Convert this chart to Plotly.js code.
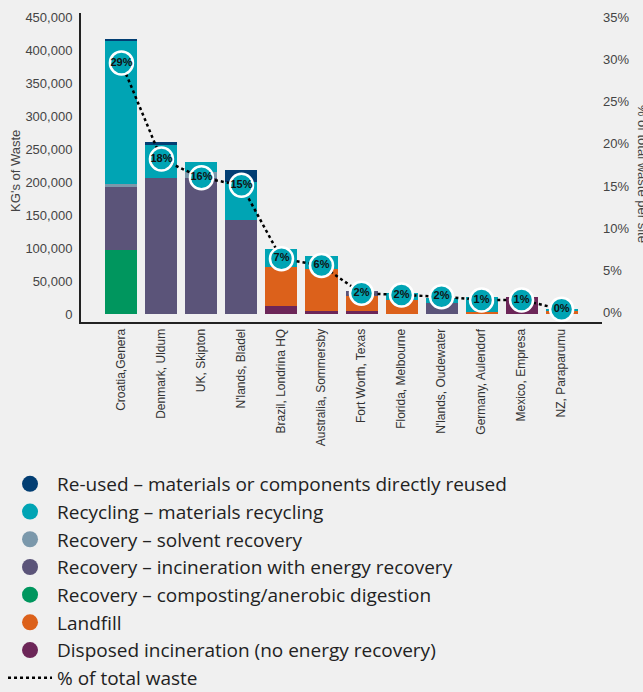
<!DOCTYPE html>
<html>
<head>
<meta charset="utf-8">
<script src="https://cdn.plot.ly/plotly-3.0.1.min.js"></script>
<style>
  html, body { margin: 0; padding: 0; background: #f0f0f0; }
  #chart { width: 643px; height: 692px; }
</style>
</head>
<body>
<div id="chart"></div>
<script>
// ---- Data ----
const sites = ["Croatia,Genera", "Denmark, Uldum", "UK, Skipton", "N'lands, Bladel",
  "Brazil, Londrina HQ", "Australia, Sommersby", "Fort Worth, Texas", "Florida, Melbourne",
  "N'lands, Oudewater", "Germany, Aulendorf", "Mexico, Empresa", "NZ, Paraparumu"];

// kg of waste per treatment (stacked bottom to top)
const disposed    = [0, 0, 0, 0, 12100, 5000, 4600, 0, 0, 0, 26200, 0];
const landfill    = [0, 0, 0, 0, 58700, 63300, 23200, 21200, 0, 3500, 0, 4000];
const composting  = [97000, 0, 0, 0, 0, 0, 0, 0, 0, 0, 0, 0];
const incinEnergy = [95600, 206300, 206300, 142600, 0, 0, 7100, 0, 16200, 0, 0, 0];
const solvent     = [4600, 0, 9100, 0, 0, 0, 0, 0, 0, 0, 0, 0];
const recycling   = [216900, 50000, 15100, 58100, 27800, 20100, 0, 11100, 8500, 22700, 0, 3000];
const reused      = [3000, 4600, 0, 17700, 0, 0, 0, 0, 0, 0, 0, 0];

// % of total waste per site
const pctValues = [29.6, 18.2, 16.0, 15.1, 6.4, 5.6, 2.3, 2.1, 1.9, 1.5, 1.5, 0.4];
const pctLabels = ["29%", "18%", "16%", "15%", "7%", "6%", "2%", "2%", "2%", "1%", "1%", "0%"];

const leftTicks = [0, 50000, 100000, 150000, 200000, 250000, 300000, 350000, 400000, 450000];
const rightTicks = [0, 5, 10, 15, 20, 25, 30, 35];
const rightTickLabels = ["0%", "5%", "10%", "15%", "20%", "25%", "30%", "35%"];

// ---- Styling ----
const FONT = "Liberation Sans, Arial, Helvetica, sans-serif";
const LEGEND_FONT = "Open Sans, Liberation Sans, Arial, sans-serif";
const series = [
  {name: "Disposed incineration (no energy recovery)", y: disposed, color: "#6c2658", rank: 7},
  {name: "Landfill", y: landfill, color: "#dc611b", rank: 6},
  {name: "Recovery – composting/anerobic digestion", y: composting, color: "#00965e", rank: 5},
  {name: "Recovery – incineration with energy recovery", y: incinEnergy, color: "#5b5479", rank: 4},
  {name: "Recovery – solvent recovery", y: solvent, color: "#7b98ab", rank: 3},
  {name: "Recycling – materials recycling", y: recycling, color: "#00a4b4", rank: 2},
  {name: "Re-used – materials or components directly reused", y: reused, color: "#023e73", rank: 1}
];

const traces = [];
series.forEach(s => {
  traces.push({
    type: "bar", x: sites, y: s.y, name: s.name,
    marker: {color: s.color, line: {width: 0}},
    showlegend: false, hoverinfo: "x+y+name"
  });
});
// legend entries with round symbols
series.forEach(s => {
  traces.push({
    type: "scatter", mode: "markers", x: [null], y: [null], name: s.name,
    marker: {color: s.color, size: 16, symbol: "circle"},
    showlegend: true, legendrank: s.rank, hoverinfo: "skip"
  });
});
// % line
traces.push({
  type: "scatter", mode: "lines", x: sites, y: pctValues, yaxis: "y2",
  name: "% of total waste",
  line: {color: "#000000", width: 2.5, dash: "3px,3px"},
  showlegend: true, legendrank: 8, hoverinfo: "skip"
});
// circular labels
traces.push({
  type: "scatter", mode: "markers+text", x: sites, y: pctValues, yaxis: "y2",
  text: pctLabels, textposition: "middle center",
  textfont: {family: FONT, size: 11, color: "#111111", weight: "bold"},
  marker: {color: "#00a4b4", size: 23, line: {color: "#ffffff", width: 2.5}},
  cliponaxis: false, showlegend: false, hoverinfo: "y"
});

const layout = {
  width: 643, height: 692,
  paper_bgcolor: "#f0f0f0", plot_bgcolor: "#f0f0f0",
  margin: {l: 81, r: 41, t: 13, b: 370, pad: 0, autoexpand: false},
  barmode: "stack", bargap: 0.2,
  font: {family: FONT, color: "#444444", size: 13},
  showlegend: true,
  xaxis: {
    type: "category", tickangle: -90, automargin: false,
    tickfont: {family: FONT, size: 12, color: "#333333"},
    showline: true, linecolor: "#222222", linewidth: 2,
    ticks: "", showgrid: false, zeroline: false, fixedrange: true
  },
  yaxis: {
    range: [-12133, 456500], tickvals: leftTicks, tickformat: ",d",
    tickfont: {family: FONT, size: 13, color: "#444444"},
    showline: true, linecolor: "#222222", linewidth: 2,
    ticks: "", ticklabelstandoff: 4, automargin: false,
    showgrid: false, zeroline: false
  },
  yaxis2: {
    overlaying: "y", side: "right", automargin: false,
    range: [-1.10, 35.51], tickvals: rightTicks, ticktext: rightTickLabels,
    tickfont: {family: FONT, size: 13, color: "#444444"},
    showline: false, ticks: "", showgrid: false, zeroline: false
  },
  legend: {
    orientation: "v", xref: "container", yref: "container",
    x: 0.0047, xanchor: "left", y: 0.328, yanchor: "top",
    traceorder: "normal", itemwidth: 44,
    font: {family: LEGEND_FONT, size: 19, color: "#222222"},
    bgcolor: "rgba(0,0,0,0)", tracegroupgap: 0, itemclick: false
  },
  annotations: [{
    text: "KG's of Waste", xref: "paper", yref: "paper",
    x: -0.1248, y: 0.489, xanchor: "center", yanchor: "middle",
    textangle: -90, showarrow: false,
    font: {family: FONT, size: 13, color: "#444444"}
  }, {
    text: "% of total waste per site", xref: "paper", yref: "paper",
    x: 1.077, y: 0.479, xanchor: "center", yanchor: "middle",
    textangle: 90, showarrow: false,
    font: {family: FONT, size: 13, color: "#444444"}
  }]
};

Plotly.newPlot("chart", traces, layout, {displayModeBar: false, staticPlot: true});
</script>
</body>
</html>
